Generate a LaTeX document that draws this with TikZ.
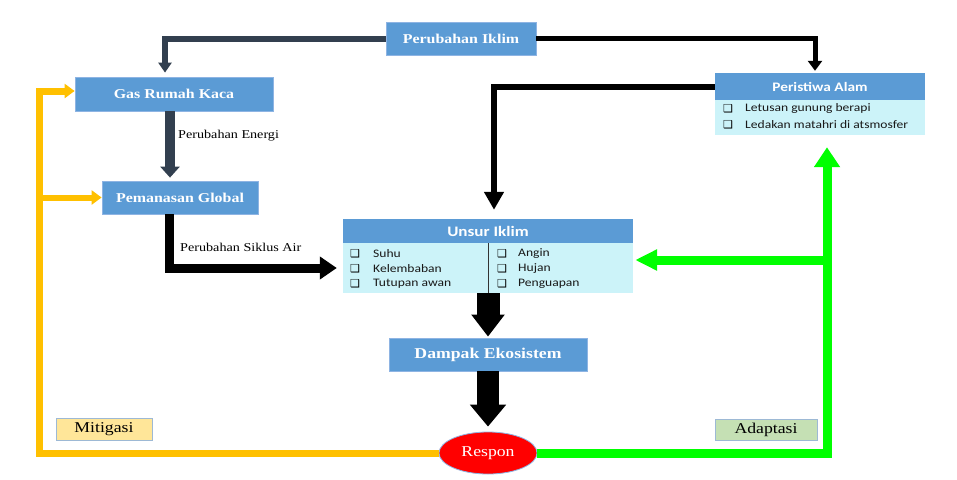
\documentclass[tikz,border=0pt]{standalone}
\usepackage{fontspec}
\setmainfont{Liberation Serif}[FakeStretch=1.18]
\newfontfamily\calf{Carlito}[FakeStretch=1.18]
\newfontfamily\symf{DejaVu Sans}
\usetikzlibrary{arrows.meta,shapes.geometric}
\definecolor{boxblue}{HTML}{5B9BD5}
\definecolor{boxedge}{HTML}{8EB4E3}
\definecolor{listbg}{HTML}{CCF3F9}
\definecolor{navy}{HTML}{323F4F}
\definecolor{orng}{HTML}{FFC000}
\definecolor{grn}{HTML}{00FF00}
\definecolor{mitfill}{HTML}{FFE699}
\definecolor{adfill}{HTML}{C5E0B4}
\definecolor{tagedge}{HTML}{9DB9D5}
\begin{document}
\begin{tikzpicture}[x=1pt,y=-1pt,
  tbox/.style={draw=boxedge, line width=0.8pt, fill=boxblue, text=white, font=\fontsize{13.5}{16}\selectfont\bfseries, inner sep=0pt},
  hbox/.style={draw=none, fill=boxblue, text=white, font=\calf\fontsize{14.5}{17}\selectfont\bfseries, inner sep=0pt},
  lbox/.style={fill=listbg, draw=none, inner sep=0pt},
  item/.style={anchor=west, font=\calf\fontsize{11.5}{13}\selectfont, text=black!90, inner sep=0pt},
  chk/.style={font=\symf\bfseries\fontsize{11}{12}\selectfont, inner sep=0pt},
  lab/.style={anchor=west, font=\fontsize{12}{14}\selectfont, inner sep=0pt, text=black},
  tag/.style={draw=tagedge, line width=0.8pt, font=\fontsize{15}{17}\selectfont, inner sep=0pt}
]
\useasboundingbox[fill=white] (0,0) rectangle (957,479);

% nodes
\node[tbox, minimum width=150pt, minimum height=33pt] (iklim) at (461,38.5) {Perubahan Iklim};
\node[tbox, minimum width=198pt, minimum height=34pt] (gas) at (174,94) {Gas Rumah Kaca};
\node[tbox, minimum width=156pt, minimum height=33pt] (pem) at (180,197.5) {Pemanasan Global};
\node[hbox, minimum width=210pt, minimum height=27pt, font=\calf\fontsize{13}{15}\selectfont\bfseries] (peri) at (820,86.5) {Peristiwa Alam};
\node[lbox, minimum width=210pt, minimum height=35pt] (perilist) at (820,117.5) {};
\node[hbox, minimum width=290pt, minimum height=24pt] (unsur) at (488,231) {Unsur Iklim};
\node[lbox, minimum width=290pt, minimum height=50pt] (ulist) at (488,268) {};
\node[tbox, minimum width=198pt, minimum height=33pt, font=\fontsize{15}{17}\selectfont\bfseries] (damp) at (488,354.5) {Dampak Ekosistem};
\node[ellipse, fill=red, draw=boxedge, line width=0.8pt, minimum width=98pt, minimum height=42pt, inner sep=0pt, text=white, font=\fontsize{15}{17}\selectfont] (respon) at (488,453) {Respon};
\node[tag, fill=mitfill, minimum width=96pt, minimum height=22pt] (mit) at (104,429) {Mitigasi};
\node[tag, fill=adfill, minimum width=102pt, minimum height=21pt] (adap) at (766,429.5) {Adaptasi};

% list contents
\draw[line width=1pt, black!80] (unsur.south) -- ([yshift=-2pt]ulist.south);
\node[chk] (c1) at (355,254) {❑}; \node[item] (t1) at (373,254) {Suhu};
\node[chk] (c2) at (355,269) {❑}; \node[item] (t2) at (373,269) {Kelembaban};
\node[chk] (c3) at (355,284) {❑}; \node[item] (t3) at (373,284) {Tutupan awan};
\node[chk] (c4) at (502,254) {❑}; \node[item] (t4) at (518,254) {Angin};
\node[chk] (c5) at (502,269) {❑}; \node[item] (t5) at (518,269) {Hujan};
\node[chk] (c6) at (502,284) {❑}; \node[item] (t6) at (518,284) {Penguapan};
\node[chk] (p1) at (728,108.5) {❑}; \node[item] (q1) at (745,108.5) {Letusan gunung berapi};
\node[chk] (p2) at (728,125) {❑}; \node[item] (q2) at (745,125) {Ledakan matahri di atsmosfer};

% connectors
\draw[navy, line width=6pt, -{Triangle[width=13pt,length=10pt]}, shorten >=4pt] (iklim.west) -| ([xshift=-9pt]gas.north);
\draw[black, line width=5pt, -{Triangle[width=14pt,length=10pt]}, shorten >=2pt] (iklim.east) -| ([xshift=-5pt]peri.north);
\draw[navy, line width=10pt, -{Triangle[width=19pt,length=11pt]}, shorten >=3pt] ([xshift=-4pt]gas.south) -- ([xshift=-10pt]pem.north);
\node[lab] (lenergi) at (178,136) {Perubahan Energi};
\draw[black, line width=9pt, -{Triangle[width=22pt,length=17pt]}, shorten >=6pt] ([xshift=-11pt]pem.south) |- (ulist.west);
\node[lab] (lsiklus) at (180,247) {Perubahan Siklus Air};
\draw[black, line width=6pt, -{Triangle[width=19pt,length=18pt]}, shorten >=9pt] (peri.west) -| ([xshift=6pt]unsur.north);
\draw[black, line width=23pt, -{Triangle[width=32pt,length=22pt]}, shorten >=1pt] (ulist.south) -- (damp.north);
\draw[black, line width=22pt, -{Triangle[width=35pt,length=22pt]}, shorten >=5pt] (damp.south) -- (respon.north);

% orange (mitigasi)
\coordinate (oc) at (39,453);
\draw[orng, line width=7pt, -{Triangle[width=14pt,length=10pt]}] (respon.west) -- (oc) |- ([yshift=3pt]gas.west);
\draw[orng, line width=6pt, -{Triangle[width=14pt,length=10pt]}] (oc |- pem.west) -- (pem.west);

% green (adaptasi)
\coordinate (gc) at (827,453);
\draw[grn, line width=9pt, -{Triangle[width=25pt,length=20pt]}, shorten >=12pt] (respon.east) -- (gc) -- (gc |- perilist.south);
\coordinate (gb) at ([yshift=8pt]ulist.east);
\draw[grn, line width=9pt, -{Triangle[width=20pt,length=22pt]}, shorten >=2pt] (gb -| gc) -- (gb);
\end{tikzpicture}
\end{document}
